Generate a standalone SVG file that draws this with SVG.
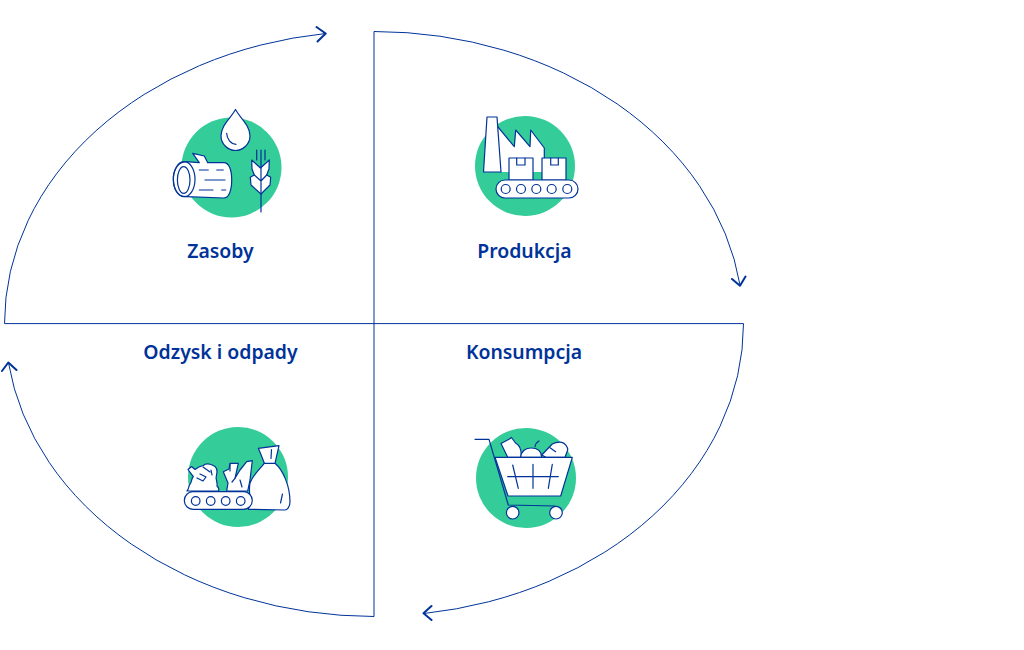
<svg xmlns="http://www.w3.org/2000/svg" width="1024" height="650" viewBox="0 0 1024 650">
<style>
.c{fill:none;stroke:#003399;stroke-width:1}
.h{fill:none;stroke:#003399;stroke-width:2;stroke-linecap:round;stroke-linejoin:round}
.g{fill:#34cc98}
.i{fill:#fff;stroke:#003399;stroke-width:1.2;stroke-linejoin:round;stroke-linecap:round}
.l{fill:none;stroke:#003399;stroke-width:1.2;stroke-linejoin:round;stroke-linecap:round}
text{font-family:"Noto Sans","Open Sans",sans-serif;font-weight:600;font-size:19.4px;fill:#003399;text-anchor:middle}
</style>
<rect width="1024" height="650" fill="#fff"/>
<g id="connectors">
<path class="c" d="M374 323.600H4.500A369.500 292.500 0 0 1 325.500 33.500"/>
<path class="c" d="M374 31.500V323.600M374 31.500A369.500 292.500 0 0 1 740 285"/>
<path class="c" d="M374 323.600H743.500A369.500 292.500 0 0 1 424 613.500"/>
<path class="c" d="M374 323.600V616.500A369.500 292.500 0 0 1 8.500 363"/>
<path class="h" d="M316.500 27L325.700 33.500L317.500 41.500M732 279L740 285.700L745.500 276.500M431.500 606L423.500 613.300L431.500 620M2 371L8.300 362.500L16.500 370"/>
</g>
<g id="zasoby">
<circle class="g" cx="231.500" cy="167.500" r="50"/>
<path class="i" d="M235.500 109.500C240 118 250 125 250 136C250 144 243 150.500 235.500 150.500C228 150.500 221 144 221 136C221 125 231 118 235.500 109.500Z"/>
<path class="l" d="M226.700 133.300C226.700 139 231 144 236 144.300"/>
<path class="i" d="M192.700 153.300L204.300 156L207.700 162.700H224C229 162.700 231.700 170 231.700 180C231.700 190 229 198 224 198L186 196.700C177 196.700 173.300 188 173.300 179C173.300 171 177 162 186 161.700L199.300 162.700Z"/>
<ellipse class="l" cx="184.200" cy="179.200" rx="10.800" ry="17.500"/>
<ellipse class="l" cx="183.700" cy="180" rx="6.300" ry="13.300"/>
<path class="l" d="M199.300 170H208.300M216.700 170H223.300M205 180H225M199.300 190H213M221.700 190H225.700"/>
<path class="i" d="M251.700 160L260.500 168L269.300 160L269 169L266.700 175L270.700 177.300L270 185L261 194L251 185L250.300 177.300L254.300 175L252 169Z"/>
<path class="l" d="M261 150V212M256.700 150V160M265 150V160M254.300 175L261 181L266.700 175"/>
<text x="220.500" y="258">Zasoby</text>
</g>
<g id="produkcja">
<circle class="g" cx="525" cy="166" r="50"/>
<path d="M498 127L514.500 146.700L515.700 130L530 146.700L530.700 130L544.300 148V172H498Z" fill="#fff"/>
<path class="l" d="M497.700 126.700L514.300 146.700L515.700 130L530 146.700L530.700 130L544.300 148V158"/>
<path class="i" d="M487 117H497L501 172H483.500Z"/>
<path class="i" d="M509 158H533V180H509ZM542 158H566V180H542Z"/>
<path class="l" d="M516.700 158V165H525V158M550.700 158V165H558.300V158"/>
<rect class="i" x="496" y="180" width="82" height="18" rx="9"/>
<circle class="i" cx="505.700" cy="189" r="4.500"/>
<circle class="i" cx="521" cy="189" r="4.500"/>
<circle class="i" cx="536.300" cy="189" r="4.500"/>
<circle class="i" cx="551.700" cy="189" r="4.500"/>
<circle class="i" cx="567.300" cy="189" r="4.500"/>
<text x="524.500" y="258">Produkcja</text>
</g>
<g id="konsumpcja">
<circle class="g" cx="526" cy="478" r="50"/>
<path class="i" d="M501 443.500L509.500 439L511.500 437.500L515.500 443C519 445 522 448 521 457.300H507.700Z"/>
<path class="i" d="M520.700 457.300C521 451 526 448 531 448C537 448 541.500 451 541.700 457.300Z"/>
<path class="l" d="M535 446.700C535.500 444 537 442 539 441"/>
<path class="i" d="M541.700 455L552.300 444C556 442 559 442 561.700 442.300C565 443 568 447 567.700 450L565 457.300H546Z"/>
<path class="l" d="M550 447.700L555.700 451.700"/>
<path class="l" d="M475 439.300H489L508.300 505L555 506"/>
<path class="i" d="M495 457.300H572.300L560.700 496H508Z"/>
<path class="l" d="M512.700 465L518.300 488.300M533 464.300V488.300M552.300 464.300L548.300 488.300M507.700 476.700H558.300"/>
<circle class="i" cx="512.700" cy="512.700" r="6.300"/>
<circle class="i" cx="556" cy="512.700" r="6.300"/>
<text x="524" y="359">Konsumpcja</text>
</g>
<g id="odzysk">
<circle class="g" cx="238" cy="477" r="50"/>
<path class="i" d="M258.300 448.300L279 445.700L275 463.300C283 470 290 486 290 501.700C290 507 287 510 285 510L248.300 509.300C252 500 248 492 250 483C253 475 259 470 264.300 463.300C262 457 260 452 258.300 448.300Z"/>
<path class="l" d="M264.300 463.300H275M271.500 449.500L271 458.500M282.500 494L280.500 503"/>
<path class="i" d="M188 469.500L191.500 466.500L195 469.500C198 467 201 466 203.300 465.500C206 463 210 464 213.300 465.500C217 467 217.500 471 216.500 475C215 479 218 483 217 486C219 488 219 490 218.300 491H187C189 489 188.500 486 190 484C192 482 191 479 193.300 476.500C191 474 190 472 188 469.500Z"/>
<path class="l" d="M203 467L210 472M200 474L206 477L203 481L197 478M211 470L212 475"/>
<path class="i" d="M223.300 471.700L229 469L230 463.300H238.300L235 478.300L240 470L246.700 461.700L252.300 460.700L250 480L247.700 491H226.700L228 483Z"/>
<path class="l" d="M232 482L235 478.300M240 480L242 487M230 464V471"/>
<rect class="i" x="184.300" y="491.700" width="68" height="17.600" rx="8.800"/>
<circle class="i" cx="195.700" cy="501" r="4.300"/>
<circle class="i" cx="210.700" cy="501" r="4.300"/>
<circle class="i" cx="225.700" cy="501" r="4.300"/>
<circle class="i" cx="240.700" cy="501" r="4.300"/>
<text x="220.500" y="359">Odzysk i odpady</text>
</g>
</svg>
